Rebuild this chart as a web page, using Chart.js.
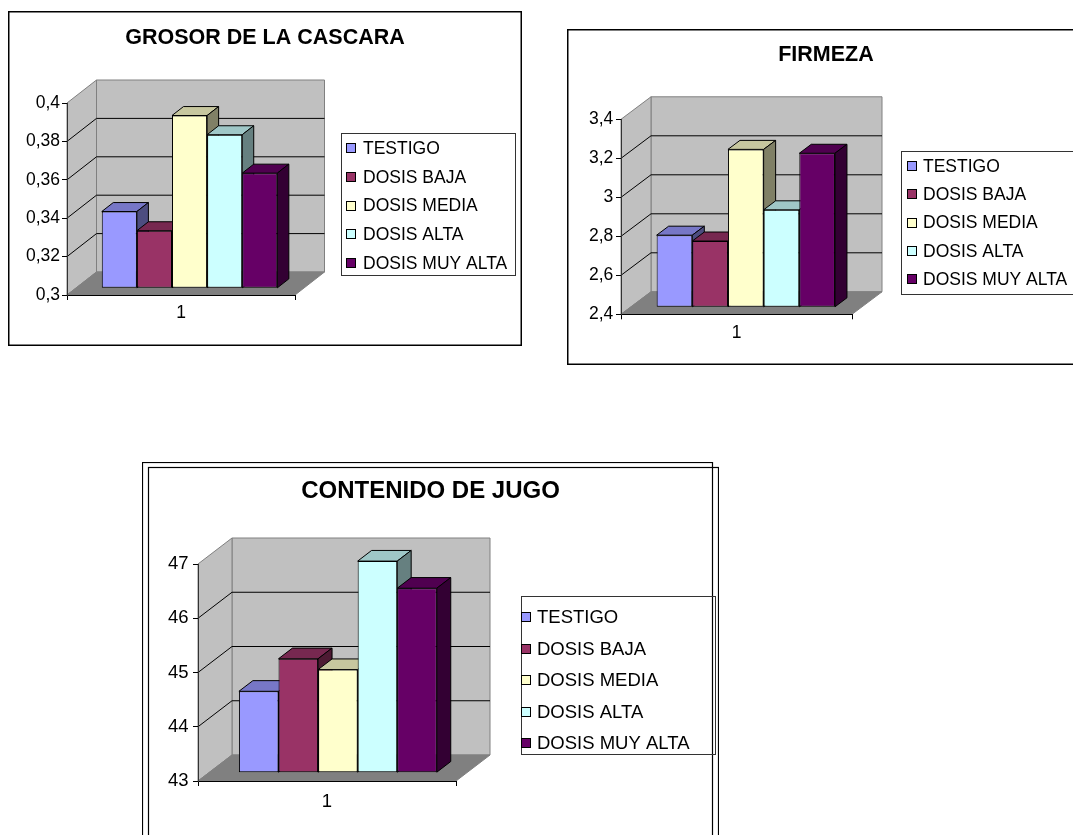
<!DOCTYPE html>
<html>
<head>
<meta charset="utf-8">
<script src="https://cdn.jsdelivr.net/npm/chart.js@4.4.1/dist/chart.umd.min.js"></script>
<style>
html, body { margin: 0; padding: 0; background: #fff; overflow: hidden; width: 1073px; height: 835px; }
canvas { position: absolute; }
#grafico1 { left: 8px; top: 11px; }
#grafico2 { left: 567px; top: 29px; }
#grafico3 { left: 142px; top: 462px; }
</style>
</head>
<body>
<canvas id="grafico1" width="514" height="335"></canvas>
<canvas id="grafico2" width="518" height="336"></canvas>
<canvas id="grafico3" width="577" height="380"></canvas>
<script>
const categorias = ["1"];
const series = ["TESTIGO", "DOSIS BAJA", "DOSIS MEDIA", "DOSIS ALTA", "DOSIS MUY ALTA"];
const colores = ["#9999FF", "#993366", "#FFFFCC", "#CCFFFF", "#660066"];

const grosor = [0.34, 0.33, 0.39, 0.38, 0.36];
const firmeza = [2.77, 2.74, 3.21, 2.90, 3.19];
const jugo = [44.5, 45.1, 44.9, 46.9, 46.4];

// min, max, paso del eje de valores
const ejeGrosor = [0.3, 0.4, 0.02];
const ejeFirmeza = [2.4, 3.4, 0.2];
const ejeJugo = [43, 47, 1];

Chart.defaults.font.family = "'Liberation Sans', Arial, sans-serif";
Chart.defaults.color = "#000";
Chart.defaults.animation = false;

function sombra(hex, f) {
    const n = parseInt(hex.slice(1), 16);
    const r = Math.round(((n >> 16) & 255) * f);
    const g = Math.round(((n >> 8) & 255) * f);
    const b = Math.round((n & 255) * f);
    return "rgb(" + r + "," + g + "," + b + ")";
}

function etiqueta(v) {
    return String(Number(Number(v).toFixed(2))).replace(".", ",");
}

function poligono(ctx, pts, relleno, borde) {
    ctx.beginPath();
    ctx.moveTo(pts[0][0], pts[0][1]);
    for (let i = 1; i < pts.length; i++) ctx.lineTo(pts[i][0], pts[i][1]);
    ctx.closePath();
    if (relleno) { ctx.fillStyle = relleno; ctx.fill(); }
    if (borde) { ctx.strokeStyle = borde; ctx.stroke(); }
}

function crearGrafico(id, titulo, valores, eje, cfg) {
    const efecto3d = {
        id: "efecto3d",
        beforeDraw(chart) {
            const ctx = chart.ctx;
            const a = chart.chartArea;
            const y = chart.scales.y;
            const dx = cfg.dx, dy = cfg.dy;
            ctx.save();
            ctx.fillStyle = "#fff";
            ctx.fillRect(0, 0, chart.width, chart.height);
            ctx.lineWidth = 1;

            // pared del fondo
            poligono(ctx, [[a.left + dx, a.top + dy], [a.right + dx, a.top + dy],
                [a.right + dx, a.bottom + dy], [a.left + dx, a.bottom + dy]], "#c0c0c0", "#808080");
            // pared lateral
            poligono(ctx, [[a.left, a.top], [a.left + dx, a.top + dy],
                [a.left + dx, a.bottom + dy], [a.left, a.bottom]], "#c0c0c0", "#808080");

            // lineas de division
            ctx.strokeStyle = "#000";
            y.ticks.forEach(t => {
                if (t.value <= y.min || t.value >= y.max) return;
                const py = y.getPixelForValue(t.value);
                ctx.beginPath();
                ctx.moveTo(a.left, py);
                ctx.lineTo(a.left + dx, py + dy);
                ctx.lineTo(a.right + dx, py + dy);
                ctx.stroke();
            });

            // piso
            poligono(ctx, [[a.left, a.bottom], [a.right, a.bottom],
                [a.right + dx, a.bottom + dy], [a.left + dx, a.bottom + dy]], "#808080", "#808080");

            // marco
            ctx.lineWidth = cfg.marcoAncho;
            ctx.strokeStyle = "#000";
            cfg.marcos.forEach(m => ctx.strokeRect(m[0], m[1], m[2], m[3]));
            ctx.restore();
        },
        beforeDatasetsDraw(chart) {
            const ctx = chart.ctx;
            const ox = cfg.f0 * cfg.dx, oy = cfg.f0 * cfg.dy;
            const px = (cfg.f1 - cfg.f0) * cfg.dx, py = (cfg.f1 - cfg.f0) * cfg.dy;
            chart.data.datasets.forEach((ds, i) => {
                const meta = chart.getDatasetMeta(i);
                meta.data.forEach(barra => {
                    const p = barra.getProps(["x", "y", "base", "width"], true);
                    const l = p.x - p.width / 2, r = p.x + p.width / 2;
                    ctx.save();
                    ctx.translate(ox, oy);
                    barra.draw(ctx);
                    ctx.lineWidth = 1;
                    poligono(ctx, [[l, p.y], [r, p.y], [r + px, p.y + py], [l + px, p.y + py]],
                        sombra(ds.backgroundColor, 0.78), "#000");
                    poligono(ctx, [[r, p.y], [r + px, p.y + py], [r + px, p.base + py], [r, p.base]],
                        sombra(ds.backgroundColor, 0.5), "#000");
                    ctx.restore();
                });
            });
            return false;
        },
        afterDraw(chart) {
            const ctx = chart.ctx;
            const ley = cfg.leyenda;
            ctx.save();
            ctx.lineWidth = 1;
            ctx.strokeStyle = "#333";
            ctx.strokeRect(ley.caja[0] + 0.5, ley.caja[1] + 0.5, ley.caja[2], ley.caja[3]);
            ctx.font = cfg.letra + "px 'Liberation Sans', Arial, sans-serif";
            ctx.textBaseline = "middle";
            ctx.textAlign = "left";
            chart.data.datasets.forEach((ds, i) => {
                const cy = ley.fila0 + i * ley.paso;
                ctx.fillStyle = ds.backgroundColor;
                ctx.fillRect(ley.cuadroX, Math.round(cy - 5), 10, 10);
                ctx.strokeStyle = "#000";
                ctx.strokeRect(ley.cuadroX + 0.5, Math.round(cy - 5) + 0.5, 9, 9);
                ctx.fillStyle = "#000";
                ctx.fillText(ds.label, ley.textoX, cy + 1);
            });
            ctx.restore();
        }
    };

    const a = cfg.area;
    const alturaX = 30;
    const tituloTop = cfg.tituloCentro - 0.6 * cfg.tituloLetra;
    const tituloBottom = a.top - tituloTop - 1.2 * cfg.tituloLetra;

    return new Chart(document.getElementById(id), {
        type: "bar",
        data: {
            labels: categorias,
            datasets: series.map((nombre, i) => ({
                label: nombre,
                data: [valores[i]],
                base: eje[0],
                backgroundColor: colores[i],
                borderColor: "#000",
                borderWidth: 1,
                borderSkipped: false,
                categoryPercentage: cfg.categoria,
                barPercentage: 1
            }))
        },
        options: {
            responsive: false,
            layout: {
                padding: { left: 0, top: 0, right: 0, bottom: cfg.alto - a.bottom - alturaX }
            },
            plugins: {
                legend: { display: false },
                tooltip: { enabled: false },
                title: {
                    display: true,
                    text: titulo,
                    color: "#000",
                    font: { size: cfg.tituloLetra, weight: "bold" },
                    padding: { top: tituloTop, bottom: tituloBottom }
                }
            },
            scales: {
                x: {
                    type: "category",
                    offset: true,
                    grid: { drawOnChartArea: false, color: "#000", tickLength: 5, offset: true },
                    border: { color: "#000" },
                    ticks: { padding: cfg.xPad, font: { size: cfg.letra } },
                    afterFit(s) { s.height = alturaX; }
                },
                y: {
                    min: eje[0],
                    max: eje[1],
                    grid: { drawOnChartArea: false, color: "#000", tickLength: 5 },
                    border: { color: "#333" },
                    ticks: {
                        stepSize: eje[2],
                        padding: cfg.yPad,
                        font: { size: cfg.letra },
                        callback: v => etiqueta(v)
                    },
                    afterFit(s) { s.width = a.left; }
                },
                // espacio reservado a la derecha para la leyenda
                derecha: {
                    type: "linear",
                    position: "right",
                    grid: { display: false },
                    border: { display: false },
                    ticks: { display: false },
                    afterFit(s) { s.width = cfg.ancho - a.right; }
                }
            }
        },
        plugins: [efecto3d]
    });
}

crearGrafico("grafico1", "GROSOR DE LA CASCARA", grosor, ejeGrosor, {
    ancho: 514, alto: 335,
    area: { left: 59, right: 287, top: 92, bottom: 284 },
    dx: 29.5, dy: -23, f0: 0.29, f1: 0.68, categoria: 0.77,
    tituloLetra: 21.5, tituloCentro: 27, letra: 17.5, yPad: 2, xPad: 2.5,
    marcoAncho: 1.5, marcos: [[0.75, 0.75, 512.5, 333.5]],
    leyenda: { caja: [333, 122, 174, 142], cuadroX: 338, textoX: 355, fila0: 137.3, paso: 28.6 }
});

crearGrafico("grafico2", "FIRMEZA", firmeza, ejeFirmeza, {
    ancho: 518, alto: 336,
    area: { left: 54, right: 285, top: 90.3, bottom: 285.3 },
    dx: 30, dy: -22.5, f0: 0.31, f1: 0.71, categoria: 0.772,
    tituloLetra: 21.5, tituloCentro: 26, letra: 17.5, yPad: 2.7, xPad: 3.2,
    marcoAncho: 1.5, marcos: [[0.75, 0.75, 516.5, 334.5]],
    leyenda: { caja: [334, 122, 174, 143], cuadroX: 340, textoX: 356, fila0: 137, paso: 28.3 }
});

crearGrafico("grafico3", "CONTENIDO DE JUGO", jugo, ejeJugo, {
    ancho: 577, alto: 380,
    area: { left: 56, right: 314, top: 102, bottom: 319 },
    dx: 34, dy: -26, f0: 0.32, f1: 0.73, categoria: 0.767,
    tituloLetra: 24, tituloCentro: 29.7, letra: 18.5, yPad: 4.5, xPad: 4.6,
    marcoAncho: 1.2, marcos: [[0.5, 0.5, 570, 400], [6.5, 5.5, 570, 400]],
    leyenda: { caja: [379, 134, 194, 158], cuadroX: 379, textoX: 395, fila0: 155.3, paso: 31.5 }
});
</script>
</body>
</html>
